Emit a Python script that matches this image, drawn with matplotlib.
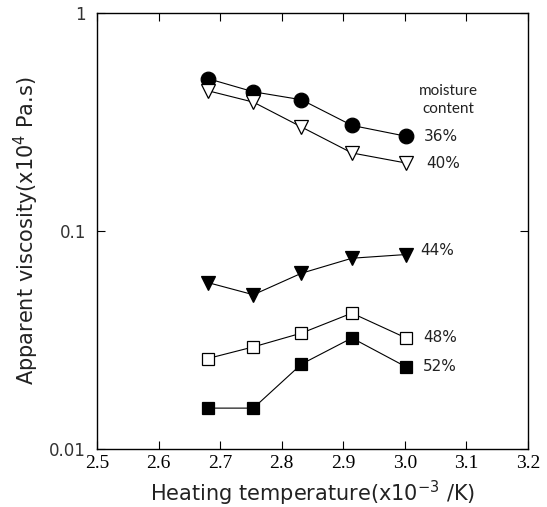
import numpy as np
import matplotlib.pyplot as plt
from matplotlib.ticker import FixedLocator, NullLocator

# inverse heating temperature (x10^-3 /K) for 100, 90, 80, 70, 60 C
inv_temp = [2.680, 2.754, 2.832, 2.914, 3.002]

visc_36 = [0.50, 0.435, 0.40, 0.305, 0.272]
visc_40 = [0.44, 0.39, 0.30, 0.228, 0.205]
visc_44 = [0.058, 0.051, 0.064, 0.075, 0.078]
visc_48 = [0.026, 0.0294, 0.034, 0.042, 0.0323]
visc_52 = [0.0154, 0.0154, 0.0245, 0.0323, 0.0238]

labels = ['36%', '40%', '44%', '48%', '52%']
x_ticks = [2.5, 2.6, 2.7, 2.8, 2.9, 3.0, 3.1, 3.2]
y_ticks = [0.01, 0.1, 1]

fig = plt.figure(figsize=(5.47, 5.07), dpi=100)
ax = fig.add_axes([0.1773, 0.1144, 0.788, 0.860])

series = [
    (visc_36, 'o', 'black', 10.5),
    (visc_40, 'v', 'white', 10),
    (visc_44, 'v', 'black', 10),
    (visc_48, 's', 'white', 8.5),
    (visc_52, 's', 'black', 8.5),
]
for vals, m, fc, ms in series:
    ax.plot(inv_temp, vals, color='black', lw=0.8, marker=m, ms=ms,
            mfc=fc, mec='black', mew=0.9)

# labels beside the last point of each curve
label_x = [3.03, 3.035, 3.025, 3.03, 3.03]
label_y = [visc_36[-1], visc_40[-1], 0.0815, visc_48[-1], visc_52[-1]]
for lx, ly, lab in zip(label_x, label_y, labels):
    ax.text(lx, ly, lab, fontsize=11, va='center', ha='left',
            color='#222222')
ax.text(3.07, 0.40, 'moisture\ncontent', fontsize=11, ha='center',
        va='center', linespacing=1.35, family='Lato', color='#222222')

ax.set_yscale('log')
ax.set_xlim(2.5, 3.2)
ax.set_ylim(0.01, 1)
ax.xaxis.set_major_locator(FixedLocator(x_ticks))
ax.set_xticklabels(['%.1f' % t for t in x_ticks], family='Liberation Serif',
                   fontsize=14)
ax.yaxis.set_major_locator(FixedLocator(y_ticks))
ax.yaxis.set_minor_locator(NullLocator())
ax.set_yticklabels(['0.01', '0.1', '1'], fontsize=12, color='#333333')
ax.tick_params(direction='in', top=True, right=True, length=6, width=0.8)
ax.tick_params(axis='y', pad=8)
ax.tick_params(axis='x', pad=4)
for s in ax.spines.values():
    s.set_linewidth(1.0)

ax.set_xlabel(r'Heating temperature(x10$^{-3}$ /K)', fontsize=15,
              color='#222222', labelpad=5)
ax.set_ylabel(r'Apparent viscosity(x10$^{4}$ Pa.s)', fontsize=15,
              color='#222222', labelpad=6)

fig.savefig('out.png', dpi=100)
